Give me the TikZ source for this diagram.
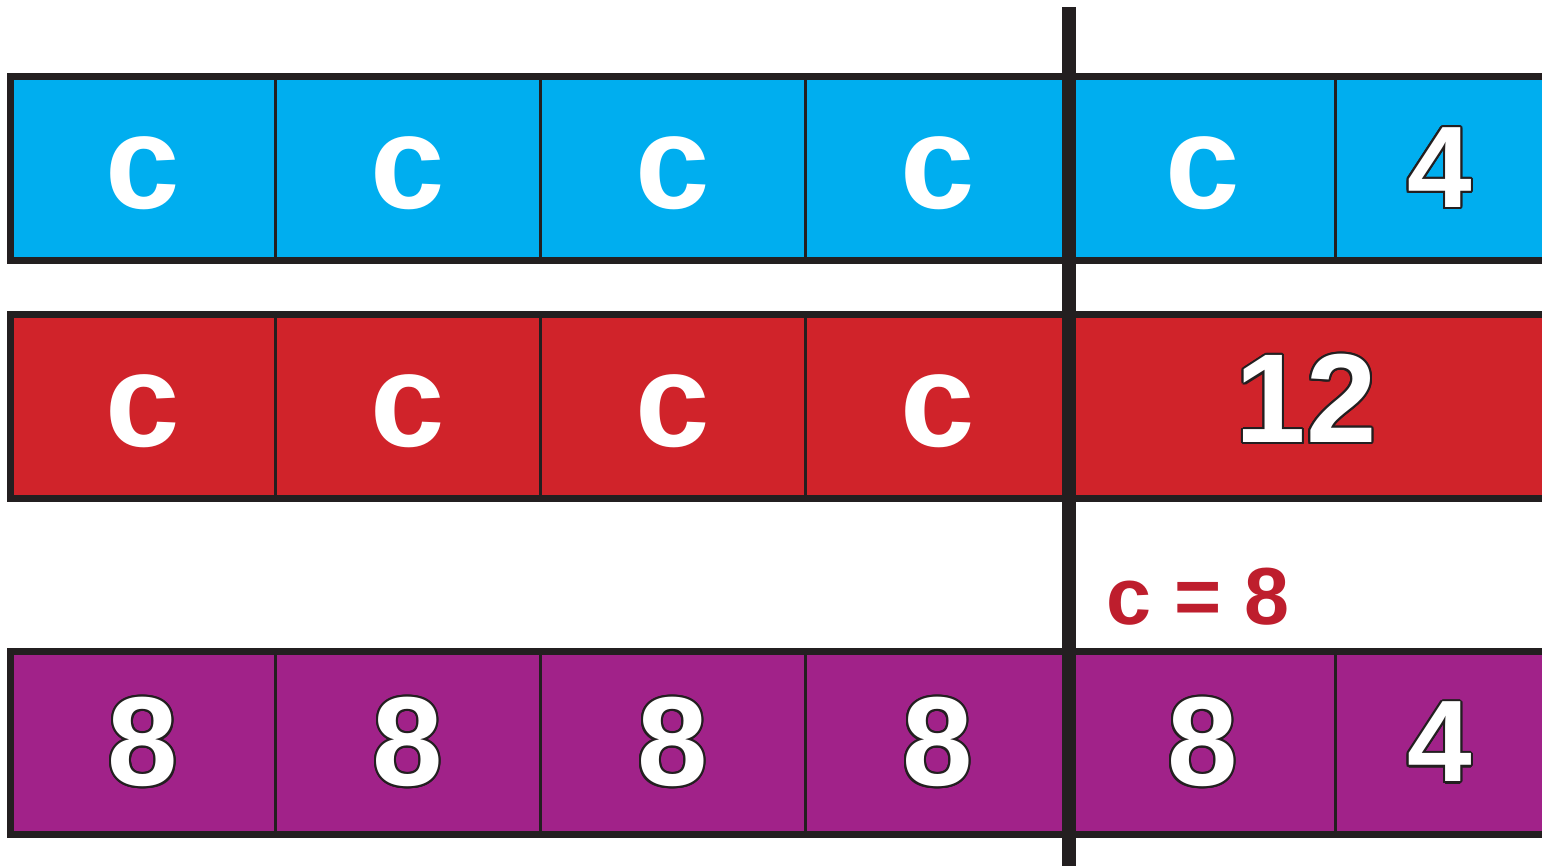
\documentclass[tikz,border=0pt]{standalone}
\usepackage{fontspec}
\setmainfont{Liberation Sans}
\usepackage[copies]{contour}
\contourlength{0.6pt}
\usetikzlibrary{positioning}
\definecolor{ink}{HTML}{231F20}
\definecolor{barblue}{HTML}{00AEEF}
\definecolor{barred}{HTML}{D0232A}
\definecolor{barpurple}{HTML}{A12289}
\definecolor{answerred}{HTML}{BE1E2D}

\begin{document}
\begin{tikzpicture}[
    x=0.01cm, y=-0.01cm,
    every node/.style={font=\bfseries\fontsize{38}{40}\selectfont, text=white},
    every label/.style={font=\bfseries\fontsize{36}{38}\selectfont, text=white},
    cell/.style={draw=ink, line width=0.85pt, outer sep=0pt, inner sep=0pt, minimum width=2.648cm, minimum height=1.835cm},
    bluecell/.style={cell, fill=barblue, text height=0.81cm},
    redcell/.style={cell, fill=barred, text height=0.81cm},
    purplecell/.style={cell, fill=barpurple, font=\bfseries\fontsize{36}{38}\selectfont},
    four/.style={xshift=-0.28cm, font=\bfseries\fontsize{33}{35}\selectfont},
    rowedge/.style={draw=ink, line width=2pt},
    divider/.style={draw=ink, line width=4pt},
    answer/.style={font=\bfseries\fontsize{23}{25}\selectfont, text=answerred}
]
\useasboundingbox (0,0) rectangle (1542,866);
% blue bar: five c and 4
\node[bluecell] (b1) at (142.75,168.75) {c};
\foreach \i [count=\j from 2] in {1,...,4}
  \node[bluecell, right=0pt of b\i] (b\j) {c};
\node[bluecell, right=0pt of b5, label={[four]center:\contour{ink}{4}}] (b6) {};
% red bar: four c and 12
\node[redcell, below=0.54cm of b1] (r1) {c};
\foreach \i [count=\j from 2] in {1,...,3}
  \node[redcell, right=0pt of r\i] (r\j) {c};
\node[redcell, right=0pt of r4, minimum width=5.3cm, label={[xshift=-0.29cm, yshift=0.07cm]center:\contour{ink}{12}}] (r5) {};
% purple bar: five 8 and 4
\node[purplecell, below=1.53cm of r1] (p1) {\contour{ink}{8}};
\foreach \i [count=\j from 2] in {1,...,4}
  \node[purplecell, right=0pt of p\i] (p\j) {\contour{ink}{8}};
\node[purplecell, right=0pt of p5, label={[four]center:\contour{ink}{4}}] (p6) {};
% outer edges
\draw[rowedge] (b6.north east) -- (b1.north west) -- (b1.south west) -- (b6.south east);
\draw[rowedge] (r5.north east) -- (r1.north west) -- (r1.south west) -- (r5.south east);
\draw[rowedge] (p6.north east) -- (p1.north west) -- (p1.south west) -- (p6.south east);
\node[answer] (answer) at (1198,597) {c = 8};
% thick split line
\coordinate (divtop) at (1069,7);
\coordinate (divbot) at (1069,866);
\draw[divider] (divtop) -- (divbot);
\end{tikzpicture}
\end{document}
